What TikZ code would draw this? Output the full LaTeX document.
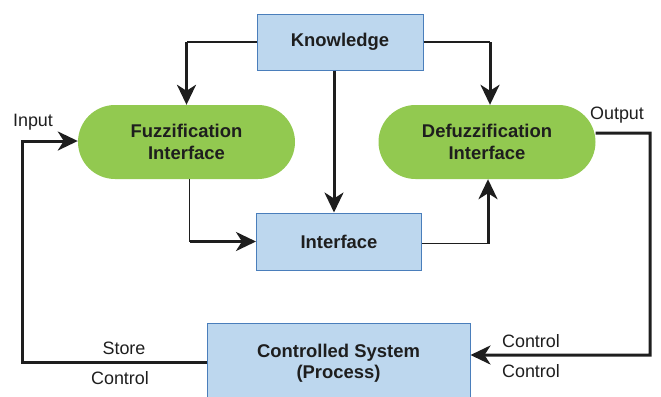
\documentclass[tikz,border=0pt]{standalone}
\usepackage{fontspec}
\setmainfont{Liberation Sans}
\usetikzlibrary{arrows.meta}
\definecolor{boxfill}{RGB}{189,215,238}
\definecolor{boxline}{RGB}{74,126,187}
\definecolor{pillfill}{RGB}{146,201,80}
\definecolor{ink}{RGB}{30,30,30}
\tikzset{
  box/.style={draw=boxline, line width=1bp, fill=boxfill, align=center,
    font=\bfseries\fontsize{18.5}{21.5}\selectfont, text=ink},
  pill/.style={fill=pillfill, rounded corners=37bp, minimum width=217bp,
    minimum height=74bp, align=center,
    font=\bfseries\fontsize{18.5}{21.5}\selectfont, text=ink},
  lbl/.style={font=\fontsize{18}{20}\selectfont, text=ink, inner sep=0pt},
  thinline/.style={draw=ink, line width=1.2bp},
  heavy/.style={draw=ink, line width=3bp},
  heavyarrow/.style={heavy, -{Stealth[length=20bp, width=19bp, inset=6bp]}},
}
\begin{document}
\begin{tikzpicture}[x=1bp, y=-1bp]
  \useasboundingbox (0,0) rectangle (661,396);
  \clip (0,0) rectangle (661,396);

  % blocks
  \node[box, minimum width=166bp, minimum height=56bp] (K) at (340,42) {Knowledge};
  \node[pill] (F) at (186.5,142) {Fuzzification\\Interface};
  \node[pill] (D) at (487,142) {Defuzzification\\Interface};
  \node[box, minimum width=165bp, minimum height=57bp] (I) at (339,241.5) {Interface};
  \node[box, minimum width=263bp, minimum height=80bp] (C) at (338.5,363) {Controlled System\\(Process)};

  % knowledge base feeds both interfaces and the inference block
  \draw[thinline] (K.west) -- (K.west -| F.north);
  \draw[heavyarrow] (K.west -| F.north) -- (F.north);
  \draw[thinline] (K.east) -- ([xshift=3bp]K.east -| D.north);
  \draw[heavyarrow] ([xshift=3bp]K.east -| D.north) -- ([xshift=3bp]D.north);
  \draw[heavyarrow] ([xshift=-6bp]K.south) -- ([xshift=-6bp]K.south |- I.north);

  % fuzzification -> inference -> defuzzification
  \draw[thinline] ([xshift=3bp]F.south) -- ([xshift=3bp]F.south |- I.west);
  \draw[heavyarrow] ([xshift=3bp]F.south |- I.west) -- (I.west);
  \draw[thinline] ([yshift=-2bp]I.east) -- ([yshift=-2bp,xshift=1bp]I.east -| D.south);
  \draw[heavyarrow] ([yshift=-2bp,xshift=1bp]I.east -| D.south) -- ([xshift=1bp]D.south);

  % output loop back into the process
  \coordinate (outA) at (650,133);
  \coordinate (outB) at (650,355);
  \draw[heavyarrow] ([yshift=9bp]D.east) -- (outA) -- (outB) -- (outB -| C.east);

  % feedback from the process to the input
  \coordinate (inA) at (22,362);
  \coordinate (inB) at (22,141);
  \draw[heavyarrow] (C.west |- inA) -- (inA) -- (inB) -- (inB -| F.west);

  % labels
  \node[lbl] at (33,122) {Input};
  \node[lbl] at (617,115) {Output};
  \node[lbl] at (124,348) {Store};
  \node[lbl] at (120,378) {Control};
  \node[lbl] at (531,341) {Control};
  \node[lbl] at (531,371) {Control};
\end{tikzpicture}
\end{document}
